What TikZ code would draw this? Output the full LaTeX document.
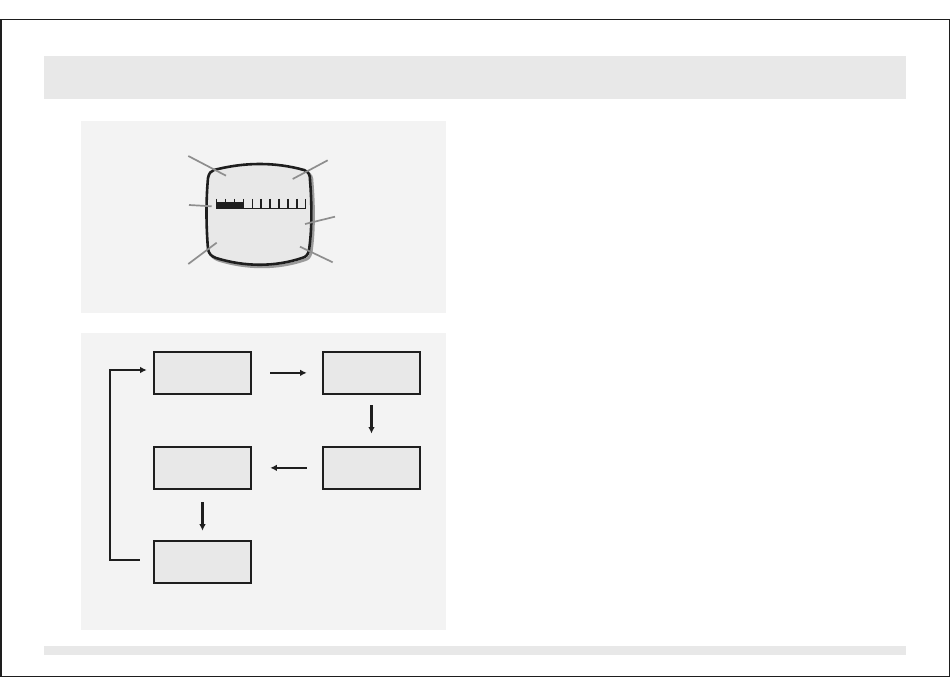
\documentclass[tikz,border=0pt]{standalone}
\usetikzlibrary{arrows.meta}
\definecolor{bandgray}{HTML}{E8E8E8}
\definecolor{panelgray}{HTML}{F3F3F3}
\definecolor{leadgray}{HTML}{8E8E8E}
\definecolor{shadowgray}{HTML}{9A9A9A}
\definecolor{inkblack}{HTML}{1E1E1E}
\tikzset{
  flowbox/.style={draw=inkblack, fill=bandgray, line width=2.4pt, inner sep=0pt,
                  minimum width=97.2pt, minimum height=42.2pt},
  flowarrow/.style={draw=inkblack, line width=2.1pt, -{Latex[length=6.5pt,width=6.5pt]}},
  leader/.style={draw=leadgray, line width=1.7pt},
  tick/.style={draw=inkblack, line width=1.5pt},
}
\begin{document}
\begin{tikzpicture}[x=1pt,y=-1pt]
\useasboundingbox (0,0) rectangle (950,700);
\fill[white] (0,0) rectangle (950,700);
% frame
\draw[inkblack, line width=1.5pt] (0.75,19.5) rectangle (949.25,676.3);
% header and footer bands
\fill[bandgray] (44,56) rectangle (906,99);
\fill[bandgray] (44,646) rectangle (906,655);
% panels
\fill[panelgray] (81,121) rectangle (446,313);
\fill[panelgray] (81,333) rectangle (446,630);

% screen shape (shadow, then body)
\def\screenpath{(214,170) .. controls (245,162) and (275,162) .. (304,170)
  .. controls (309,172) and (310,175) .. (310,180)
  .. controls (312,205) and (312,230) .. (309,250)
  .. controls (308,255) and (306,257) .. (302,258)
  .. controls (275,267) and (245,267) .. (216,258)
  .. controls (211,256) and (209,254) .. (208,249)
  .. controls (206,225) and (206,200) .. (208,178)
  .. controls (209,173) and (211,171) .. (214,170) -- cycle}
\begin{scope}[shift={(2.2,2.2)}]
\draw[shadowgray, line width=2.6pt] \screenpath;
\end{scope}
\draw[inkblack, fill=bandgray, line width=2.6pt] \screenpath;

% scale bar
\fill[inkblack] (216.7,202.3) rectangle (244,209.2);
\draw[tick] (216.7,208.5) -- (305.7,208.5);
\foreach \i in {0,...,10} {
  \draw[tick] ({216.7+\i*8.9},199) -- ({216.7+\i*8.9},209.2);
}

% leader lines
\draw[leader] (188.3,156) -- (226,175.7);
\draw[leader] (327.7,160.3) -- (292.7,179);
\draw[leader] (189,205) -- (211.7,206.3);
\draw[leader] (335,216.7) -- (305,224);
\draw[leader] (188.3,264) -- (216.7,242.7);
\draw[leader] (332.7,262.3) -- (300,246.7);

% flowchart
\node[flowbox] (A) at (202.5,372.85) {};
\node[flowbox] (B) at (371.5,372.85) {};
\node[flowbox] (C) at (202.5,467.85) {};
\node[flowbox] (D) at (371.5,467.85) {};
\node[flowbox] (E) at (202.5,562) {};

\draw[flowarrow] ([xshift=18pt]A.east) -- ([xshift=-15pt]B.west);
\draw[flowarrow] ([yshift=-10pt]B.south) -- ([yshift=12pt]D.north);
\draw[flowarrow] ([xshift=-15pt]D.west) -- ([xshift=18pt]C.east);
\draw[flowarrow] ([yshift=-12pt]C.south) -- ([yshift=9pt]E.north);
\draw[flowarrow] ([xshift=-13pt,yshift=2pt]E.west) -- ++(-29.3pt,0)
   |- ([xshift=-6pt,yshift=2.85pt]A.west);
\end{tikzpicture}
\end{document}
